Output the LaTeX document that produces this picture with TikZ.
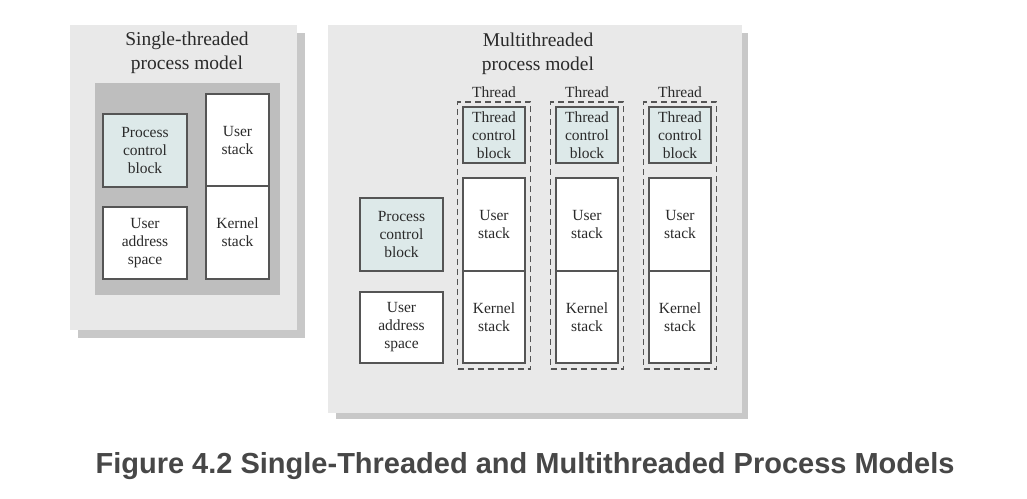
\documentclass[tikz,border=0pt]{standalone}
\usepackage{fontspec}
\setmainfont{Liberation Serif}
\newfontfamily\capfont{Liberation Sans}
\usetikzlibrary{positioning}
\definecolor{panelgray}{HTML}{E9E9E9}
\definecolor{shadowgray}{HTML}{C8C8C8}
\definecolor{innergray}{HTML}{BEBEBE}
\definecolor{pcbblue}{HTML}{DDE9E9}
\definecolor{edgegray}{HTML}{555555}
\definecolor{txtgray}{HTML}{2A2A2A}
\definecolor{capgray}{HTML}{474747}
\begin{document}
\begin{tikzpicture}[x=1pt,y=-1pt,
  blk/.style={draw=edgegray,line width=1.3pt,fill=white,inner sep=0pt,
    align=center,text=txtgray,font=\fontsize{15.5}{18}\selectfont},
  bluebox/.style={blk,fill=pcbblue},
  dashbox/.style={draw=edgegray,line width=1.2pt,dash pattern=on 6pt off 4pt,
    minimum width=73pt,minimum height=267pt,inner sep=0pt},
  ttl/.style={text=txtgray,align=center,font=\fontsize{19.5}{24.5}\selectfont},
  thr/.style={text=txtgray,font=\fontsize{15.5}{18}\selectfont}]
\useasboundingbox (0,0) rectangle (1027,498);
\fill[white] (0,0) rectangle (1027,498);
% left panel
\fill[shadowgray] (78,33) rectangle (305,338);
\fill[panelgray] (70,25) rectangle (297,330);
\fill[innergray] (95,83) rectangle (280,295);
\node[ttl] (stitle) at (187,53) {Single-threaded\\process model};
\node[bluebox,minimum width=84pt,minimum height=73pt] (spcb) at (145,150.5) {Process\\control\\block};
\node[blk,minimum width=84pt,minimum height=72pt] (suas) at (145,243) {User\\address\\space};
\node[blk,minimum width=63pt,minimum height=92pt] (sus) at (237.5,140) {User\\stack};
\node[blk,minimum width=63pt,minimum height=93pt] (sks) at (237.5,232.5) {Kernel\\stack};
% right panel
\fill[shadowgray] (336,33) rectangle (748,419);
\fill[panelgray] (328,25) rectangle (742,413);
\node[ttl] (mtitle) at (538,54) {Multithreaded\\process model};
\node[bluebox,minimum width=83pt,minimum height=73pt] (mpcb) at (401.5,234.5) {Process\\control\\block};
\node[blk,minimum width=83pt,minimum height=71pt] (muas) at (401.5,327.5) {User\\address\\space};
\foreach \i/\cx in {1/494,2/587,3/680}{
  \node[dashbox] (dash\i) at (\cx,235.5) {};
  \node[thr,anchor=base] (tlab\i) at (\cx,97) {Thread};
  \node[bluebox,minimum width=62pt,minimum height=56pt] (tcb\i) at (\cx,135) {Thread\\control\\block};
  \node[blk,minimum width=62pt,minimum height=93pt] (tus\i) at (\cx,224.5) {User\\stack};
  \node[blk,minimum width=62pt,minimum height=92pt] (tks\i) at (\cx,317) {Kernel\\stack};
}
% caption
\node[text=capgray,font=\capfont\bfseries\fontsize{29}{34}\selectfont] (cap) at (525,466)
  {Figure 4.2 Single-Threaded and Multithreaded Process Models};
\end{tikzpicture}
\end{document}
